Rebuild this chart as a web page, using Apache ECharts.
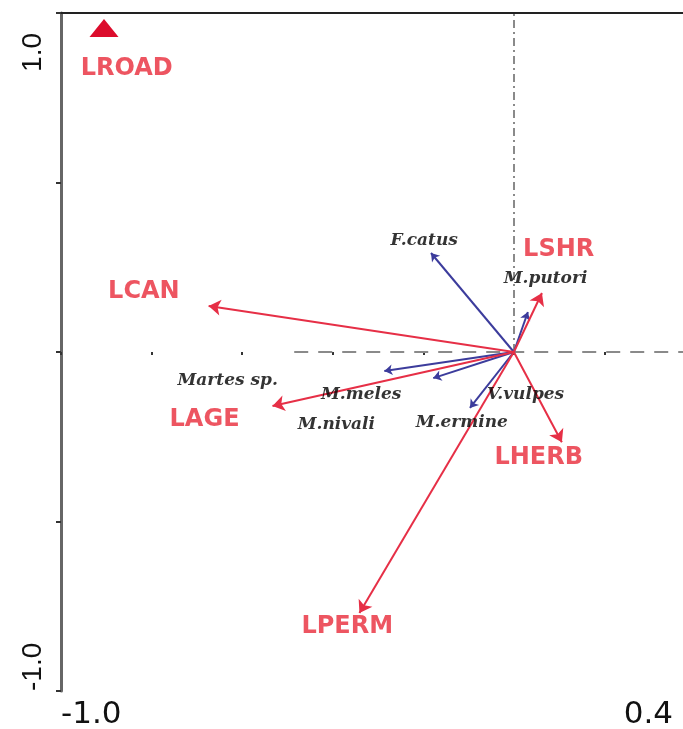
<!DOCTYPE html>
<html>
<head>
<meta charset="utf-8">
<script src="https://cdn.jsdelivr.net/npm/echarts@6/dist/echarts.min.js"></script>
<style>
  html, body { margin: 0; padding: 0; background: #fff; }
  #myChart { width: 683px; height: 729px; }
</style>
</head>
<body>
<div id="myChart"></div>
<script>
// environmental variables (arrows from origin)
var envNames = ['LCAN', 'LAGE', 'LPERM', 'LHERB', 'LSHR'];
var envX = [-0.674, -0.533, -0.341, 0.106, 0.062];
var envY = [0.136, -0.159, -0.770, -0.266, 0.174];
var envLabelX = [-0.817, -0.683, -0.368, 0.055, 0.099];
var envLabelY = [0.177, -0.200, -0.811, -0.313, 0.301];

// nominal variable (triangle)
var pointNames = ['LROAD'];
var pointX = [-0.905];
var pointY = [0.956];
var pointLabelX = [-0.855];
var pointLabelY = [0.835];

// species (arrows from origin, null = no arrow drawn)
var sppNames = ['F.catus', 'M.putori', 'Martes sp.', 'M.meles', 'M.ermine', 'V.vulpes', 'M.nivali'];
var sppX = [-0.183, 0.031, -0.286, -0.178, -0.097, null, null];
var sppY = [0.292, 0.118, -0.056, -0.077, -0.165, null, null];
var sppLabelX = [-0.198, 0.070, -0.632, -0.337, -0.115, 0.026, -0.392];
var sppLabelY = [0.330, 0.218, -0.083, -0.127, -0.209, -0.127, -0.215];

// axis ranges / tick labels
var xMin = -1.0, xMax = 0.4, xStep = 0.2;
var yMin = -1.0, yMax = 1.0, yStep = 0.5;
var xTickLabels = {'-1': '-1.0', '0.4': '0.4'};
var yTickLabels = {'-1': '-1.0', '1': '1.0'};

var RED = '#e62f46';
var RED_TEXT = '#e82a3a';
var BLUE = '#3c3c9c';

function arrowData(xs, ys) {
    var out = [];
    for (var i = 0; i < xs.length; i++) {
        if (xs[i] === null) continue;
        out.push({coords: [[0, 0], [xs[i], ys[i]]]});
    }
    return out;
}

function labelData(names, xs, ys) {
    return names.map(function (n, i) {
        return {name: n, value: [xs[i], ys[i]]};
    });
}

function tickName(map, v) {
    var key = String(Math.round(v * 10) / 10);
    return map[key] || '';
}

var myChart = echarts.init(document.getElementById('myChart'));

var option = {
    animation: false,
    // plot area runs past the right edge of the picture (0.4 is cut off)
    grid: {left: 61, top: 13, width: 634, bottom: 38, outerBoundsMode: 'none', containLabel: false},
    xAxis: [{
        type: 'value', min: xMin, max: xMax, interval: xStep,
        axisLine: {show: false},
        axisTick: {show: true, length: 3, lineStyle: {color: '#333', width: 2}},
        splitLine: {show: false},
        axisLabel: {
            show: true, showMinLabel: true, showMaxLabel: true, hideOverlap: false,
            formatter: function (v) { return tickName(xTickLabels, v); },
            fontFamily: 'DejaVu Sans', fontSize: 31, color: '#111', margin: 8,
            alignMinLabel: 'left', alignMaxLabel: 'right',
            padding: [0, 22, 0, 0]
        }
    }, {
        type: 'value', min: xMin, max: xMax, position: 'top',
        axisLine: {show: true, onZero: false, lineStyle: {color: '#222', width: 2}},
        axisTick: {show: false}, axisLabel: {show: false}, splitLine: {show: false}
    }],
    yAxis: [{
        type: 'value', min: yMin, max: yMax, interval: yStep,
        axisLine: {show: true, onZero: false, lineStyle: {color: '#666', width: 3}},
        axisTick: {show: true, length: 5, lineStyle: {color: '#333', width: 2}},
        splitLine: {show: false},
        axisLabel: {
            show: true, showMinLabel: true, showMaxLabel: true, hideOverlap: false,
            rotate: 90,
            formatter: function (v) { return tickName(yTickLabels, v); },
            fontFamily: 'Liberation Sans', fontSize: 28, color: '#111', margin: 14,
            alignMinLabel: 'left', alignMaxLabel: 'right',
            padding: [0, 20, 0, 0]
        }
    }],
    series: [
        {
            // reference lines through origin
            type: 'lines', coordinateSystem: 'cartesian2d', silent: true, z: 1,
            lineStyle: {color: '#8a8a8a', width: 2, type: [8, 4, 2, 4], opacity: 1},
            data: [{coords: [[0, 0], [0, yMax]]}]
        },
        {
            type: 'lines', coordinateSystem: 'cartesian2d', silent: true, z: 1,
            lineStyle: {color: '#8a8a8a', width: 2, type: [14, 10], opacity: 1},
            data: [{coords: [[-0.485, 0], [xMax, 0]]}]
        },
        {
            // species arrows
            type: 'lines', coordinateSystem: 'cartesian2d', z: 3,
            symbol: ['none', 'arrow'], symbolSize: 8,
            lineStyle: {color: BLUE, width: 2, opacity: 1, curveness: 0},
            data: arrowData(sppX, sppY)
        },
        {
            // environmental arrows
            type: 'lines', coordinateSystem: 'cartesian2d', z: 4,
            symbol: ['none', 'arrow'], symbolSize: 12,
            lineStyle: {color: RED, width: 2, opacity: 1, curveness: 0},
            data: arrowData(envX, envY)
        },
        {
            // nominal variable
            type: 'scatter', symbol: 'triangle', symbolSize: [29, 18], z: 5,
            itemStyle: {color: '#dc0c2c', opacity: 1},
            data: pointX.map(function (x, i) { return [x, pointY[i]]; })
        },
        {
            type: 'scatter', symbolSize: 0, z: 6,
            label: {
                show: true, position: 'inside', formatter: '{b}',
                fontFamily: 'DejaVu Sans', fontWeight: 'bold', fontSize: 24, color: RED_TEXT
            },
            data: labelData(envNames, envLabelX, envLabelY)
                .concat(labelData(pointNames, pointLabelX, pointLabelY))
        },
        {
            type: 'scatter', symbolSize: 0, z: 6,
            label: {
                show: true, position: 'inside', formatter: '{b}',
                fontFamily: 'DejaVu Serif', fontWeight: 'bold', fontStyle: 'italic',
                fontSize: 17, color: '#000'
            },
            data: labelData(sppNames, sppLabelX, sppLabelY)
        }
    ]
};

myChart.setOption(option);
</script>
</body>
</html>
